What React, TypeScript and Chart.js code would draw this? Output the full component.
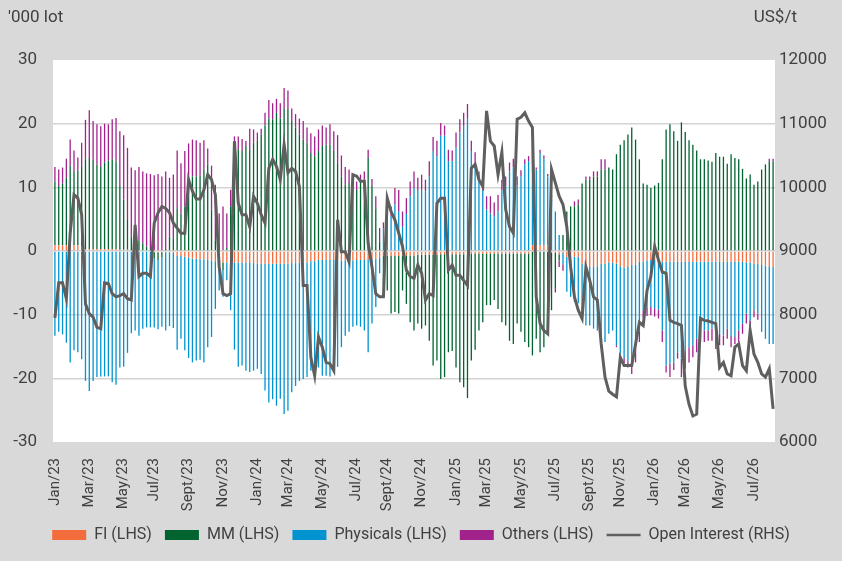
import React, { useEffect, useRef } from "react";
import Chart from "chart.js/auto";

// weekly observations, first week of Jan 2023 onwards
const weeks: string[] = Array.from({ length: 189 }, (_, i) =>
  new Date(Date.UTC(2023, 0, 1) + i * 7 * 86400000).toISOString().slice(0, 10)
);

const monthNames = ["Jan", "Feb", "Mar", "Apr", "May", "Jun", "Jul", "Aug", "Sept", "Oct", "Nov", "Dec"];

// '000 lot
const fi = [
  0.9, 0.9, 0.9, 0.9, 0.9, 0.9, 0.9, 0.7, 0.3, 0.3,
  0.3, 0.3, 0.3, 0.3, 0.3, 0.3, 0.3, 0.2, 0.2, 0.2,
  0.1, 0.1, 0.1, 0.1, 0, 0, -0.2, -0.2, -0.2, -0.2,
  -0.2, -0.3, -0.8, -0.8, -0.9, -1.0, -1.2, -1.2, -1.3, -1.3,
  -1.4, -1.5, -1.6, -1.8, -1.8, -1.8, -1.8, -1.8, -1.8, -1.8,
  -1.8, -1.9, -1.9, -2.0, -2.0, -2.0, -2.0, -2.0, -2.0, -2.0,
  -2.0, -2.0, -1.9, -1.9, -1.8, -1.8, -1.8, -1.6, -1.6, -1.4,
  -1.4, -1.4, -1.4, -1.4, -1.4, -1.5, -1.5, -1.5, -1.5, -1.4,
  -1.4, -1.4, -1.3, -1.3, -1.2, -1.0, -0.8, -0.8, -0.8, -0.8,
  -0.8, -0.7, -0.7, -0.7, -0.7, -0.6, -0.6, -0.6, -0.6, -0.6,
  -0.6, -0.5, -0.5, -0.5, -0.5, -0.5, -0.5, -0.5, -0.5, -0.4,
  -0.4, -0.4, -0.4, -0.4, -0.4, -0.4, -0.4, -0.4, -0.4, -0.4,
  -0.4, -0.4, -0.4, -0.4, -0.4, 0.9, 0.9, 0.9, 0.9, 0.9,
  -0.3, -0.3, -0.5, -0.3, -0.9, -0.9, -0.9, -0.9, -2.0, -2.7,
  -2.5, -2.5, -2.4, -2.0, -2.0, -1.8, -1.8, -2.0, -2.4, -2.6,
  -2.5, -2.2, -2.1, -1.7, -1.7, -1.5, -1.4, -1.4, -1.4, -1.7,
  -1.7, -1.7, -1.7, -1.7, -1.7, -1.7, -1.7, -1.7, -1.7, -1.7,
  -1.7, -1.7, -1.7, -1.7, -1.7, -1.7, -1.7, -1.7, -1.7, -1.7,
  -1.7, -1.8, -1.8, -2.0, -2.0, -2.2, -2.3, -2.4, -2.5,
];

const mm = [
  10.0, 9.3, 9.7, 10.6, 12.5, 11.5, 11.8, 12.5, 14.1, 14.3,
  14.0, 13.3, 12.9, 13.6, 13.9, 14.1, 13.8, 10.0, 7.9, 4.8,
  2.2, 2.0, 1.6, 1.1, 0.7, 0.3, -1.0, -1.2, -0.8, 0.3,
  2.3, 2.0, 6.7, 5.9, 7.0, 11.2, 11.7, 11.7, 11.8, 12.8,
  13.6, 6.5, 1.7, 1.2, -1.2, 0.5, 7.0, 16.8, 16.0, 15.7,
  16.5, 16.0, 17.0, 17.3, 18.3, 19.7, 20.8, 20.7, 21.7, 20.8,
  22.3, 22.3, 20.4, 19.4, 18.3, 17.5, 17.0, 15.4, 14.9, 15.7,
  16.5, 16.7, 16.7, 15.7, 13.8, 11.7, 10.4, 10.7, 10.7, 9.6,
  11.2, 11.2, 14.6, 10.2, 6.7, 1.5, -4.5, -5.4, -9.0, -8.8,
  -9.0, -5.5, -7.6, -10.5, -11.8, -10.8, -11.6, -11.1, -13.5, -17.4,
  -16.6, -19.6, -19.3, -15.4, -15.2, -17.8, -20.1, -20.9, -22.6, -16.8,
  -15.1, -12.1, -10.8, -8.1, -8.1, -7.3, -8.7, -10.8, -11.3, -13.7,
  -14.2, -11.0, -12.3, -13.9, -14.7, -16.4, -13.8, -15.9, -15.1, -11.9,
  -9.0, -5.5, -1.0, 2.5, 6.2, 7.0, 7.0, 7.3, 10.6, 11.2,
  11.2, 11.7, 11.7, 12.8, 12.8, 13.1, 12.8, 15.2, 16.7, 17.4,
  18.3, 19.4, 17.5, 14.4, 10.6, 10.4, 9.9, 10.3, 10.7, 14.4,
  19.1, 19.9, 18.8, 17.3, 20.2, 18.7, 17.4, 16.7, 15.8, 14.4,
  14.4, 14.2, 14.0, 15.4, 14.8, 14.8, 13.7, 15.2, 14.6, 14.4,
  12.9, 11.4, 12.0, 10.4, 10.9, 12.8, 13.6, 14.1, 14.1,
];

const physicals = [
  -13.3, -12.7, -13.1, -14.4, -17.5, -15.6, -15.9, -17.0, -20.4, -22.0,
  -20.4, -19.8, -19.7, -19.7, -19.7, -20.6, -21.0, -18.3, -18.2, -16.0,
  -12.9, -12.5, -13.3, -12.2, -12.0, -12.0, -10.8, -10.9, -10.9, -12.3,
  -11.6, -11.8, -14.7, -13.0, -14.7, -15.8, -16.3, -16.0, -15.8, -16.2,
  -13.7, -12.0, -7.5, -4.4, -4.2, -2.8, -7.5, -13.7, -16.4, -16.2,
  -17.0, -17.1, -16.9, -16.5, -17.3, -19.9, -21.8, -21.3, -22.3, -21.2,
  -23.6, -23.1, -20.3, -19.3, -18.6, -18.3, -18.0, -17.2, -17.2, -16.9,
  -18.2, -18.2, -18.3, -17.4, -16.8, -13.6, -11.8, -11.2, -10.4, -10.3,
  -10.5, -11.1, -14.6, -10.1, -7.6, -2.5, 3.5, 7.0, 5.5, 7.3,
  6.2, 3.8, 5.8, 8.6, 9.9, 9.6, 9.6, 9.4, 11.7, 15.7,
  14.9, 18.1, 18.1, 14.1, 14.1, 16.2, 18.6, 19.6, 20.9, 15.7,
  13.3, 11.2, 9.6, 6.5, 5.9, 5.4, 6.2, 9.6, 10.2, 12.5,
  13.1, 10.3, 11.7, 13.6, 14.1, 15.0, 11.9, 14.5, 13.6, 10.8,
  8.5, 6.2, 2.5, -1.8, -5.5, -6.3, -7.1, -7.3, -8.6, -9.0,
  -9.2, -9.7, -10.1, -12.3, -12.3, -11.2, -10.7, -12.8, -13.8, -14.2,
  -14.8, -15.2, -13.0, -11.0, -7.7, -7.4, -7.4, -7.6, -7.8, -10.8,
  -16.3, -16.0, -15.8, -14.2, -15.2, -13.9, -13.4, -13.1, -12.1, -11.0,
  -10.8, -10.8, -10.5, -11.8, -11.3, -11.6, -10.5, -11.6, -11.8, -10.8,
  -9.7, -8.0, -9.1, -7.3, -7.8, -10.5, -11.5, -12.2, -12.1,
];

const others = [
  2.3, 2.6, 2.5, 3.0, 4.1, 3.4, 2.0, 3.8, 6.2, 7.5,
  6.1, 6.3, 6.4, 6.1, 5.7, 6.3, 6.8, 8.6, 10.1, 11.2,
  10.8, 10.6, 11.5, 11.3, 11.5, 11.8, 11.9, 12.1, 11.7, 12.2,
  9.2, 10.0, 9.1, 7.9, 8.7, 5.7, 5.8, 5.7, 5.2, 4.6,
  2.5, 6.9, 8.7, 4.7, 7.0, 5.4, 2.6, 1.2, 2.0, 1.9,
  0.8, 3.2, 2.1, 1.3, 0.9, 2.0, 2.9, 2.5, 2.2, 2.4,
  3.3, 2.9, 2.0, 2.1, 2.5, 2.9, 2.4, 3.1, 3.1, 3.4,
  3.2, 2.7, 3.2, 3.1, 4.4, 3.3, 2.8, 2.1, 1.3, 1.3,
  0.8, 1.3, 1.3, 1.1, 1.9, 2.1, 1.0, 1.3, 1.5, 2.6,
  3.4, 2.4, 2.5, 2.3, 2.6, 1.9, 2.4, 1.8, 2.4, 2.2,
  2.4, 2.0, 1.6, 1.8, 1.7, 2.4, 2.1, 2.1, 2.2, 1.6,
  2.2, 1.3, 0.7, 2.1, 2.7, 2.2, 2.6, 1.6, 1.5, 1.4,
  1.4, 1.4, 1.0, 0.8, 0.8, 0.7, 0.3, 0.5, 0.5, 0.4,
  0.3, -0.7, -1.0, -1.0, 0, 0, 0.8, 0.8, 0, 0.5,
  0.5, 0.8, 0.8, 1.6, 1.6, 0, 0, -0.3, -0.5, -0.8,
  -1.0, -1.9, -2.4, -1.6, -1.0, -1.3, -1.3, -1.3, -1.4, -1.8,
  -1.1, -2.1, -1.2, -1.0, -2.9, -2.9, -2.4, -1.9, -2.1, -1.6,
  -1.8, -1.6, -1.9, -1.9, -1.8, -1.5, -1.6, -1.8, -1.1, -1.8,
  -1.6, -1.6, -1.0, -1.1, -1.0, 0, 0, 0.4, 0.4,
];

// US$/t
const openInterest = [
  7950, 8500, 8500, 8250, 9280, 9885, 9830, 9570, 8170, 8015,
  7960, 7800, 7780, 8500, 8490, 8330, 8280, 8300, 8330, 8250,
  8230, 9410, 8600, 8650, 8650, 8600, 9440, 9600, 9700, 9670,
  9600, 9440, 9360, 9280, 9280, 10120, 9940, 9815, 9815, 9960,
  10200, 10120, 9885, 8750, 8330, 8300, 8330, 10725, 9750, 9570,
  9570, 9380, 9860, 9750, 9570, 9440, 10300, 10440, 10330, 10120,
  10670, 10230, 10300, 10250, 10015, 8460, 8460, 7330, 7040, 7650,
  7490, 7250, 7230, 7120, 9490, 8990, 8990, 8830, 10200, 10175,
  10095, 10095, 9120, 8750, 8330, 8280, 8280, 9830, 9620, 9490,
  9280, 9070, 8700, 8600, 8570, 8780, 8650, 8230, 8330, 8300,
  9750, 9830, 9830, 8700, 8780, 8620, 8620, 8540, 8460, 10300,
  10360, 10120, 10015, 11200, 10725, 10650, 10200, 10550, 9650, 9380,
  9280, 11070, 11100, 11170, 11040, 10940, 8280, 7860, 7750, 7700,
  10280, 10070, 9860, 9730, 9380, 8750, 8280, 8070, 7940, 8750,
  8540, 8280, 8230, 7540, 7020, 6800, 6750, 6710, 7330, 7200,
  7200, 7200, 7540, 7880, 7830, 8380, 8600, 9070, 8860, 8670,
  8650, 7910, 7880, 7860, 7830, 6880, 6590, 6410, 6440, 7940,
  7910, 7900, 7880, 7860, 7170, 7250, 7070, 7040, 7490, 7540,
  7200, 7120, 7750, 7380, 7250, 7070, 7020, 7150, 6520,
];

const FONT = "Roboto, 'Liberation Sans', Arial, sans-serif";
const TEXT = "#404040";

const backdrop = {
  id: "backdrop",
  beforeDraw(chart: any) {
    const { ctx, chartArea } = chart;
    ctx.save();
    ctx.fillStyle = "#ffffff";
    ctx.fillRect(chartArea.left, chartArea.top, chartArea.right - chartArea.left, chartArea.bottom - chartArea.top);
    ctx.restore();
  },
  afterDraw(chart: any) {
    const { ctx } = chart;
    ctx.save();
    ctx.fillStyle = TEXT;
    ctx.font = `17px ${FONT}`;
    ctx.textBaseline = "middle";
    ctx.textAlign = "left";
    ctx.fillText("'000 lot", 8, 18);
    ctx.textAlign = "right";
    ctx.fillText("US$/t", 797, 18);
    ctx.restore();
  },
};

const App: React.FC = () => {
  const canvasRef = useRef<HTMLCanvasElement>(null);

  useEffect(() => {
    if (!canvasRef.current) return;
    const bar = (label: string, data: number[], color: string) => ({
      type: "bar" as const,
      label,
      data,
      backgroundColor: color,
      borderWidth: 0,
      categoryPercentage: 1,
      barPercentage: 0.34,
      stack: "pos",
      yAxisID: "y",
      order: 1,
    });

    const chart = new Chart(canvasRef.current, {
      type: "bar",
      data: {
        labels: weeks,
        datasets: [
          bar("FI (LHS)", fi, "#F36C3B"),
          bar("MM (LHS)", mm, "#006330"),
          bar("Physicals (LHS)", physicals, "#0093D0"),
          bar("Others (LHS)", others, "#A1228B"),
          {
            type: "line" as const,
            label: "Open Interest (RHS)",
            data: openInterest,
            borderColor: "#5f5f5f",
            borderWidth: 3,
            pointRadius: 0,
            tension: 0,
            yAxisID: "y1",
            order: 0,
          } as any,
        ],
      },
      options: {
        responsive: true,
        maintainAspectRatio: false,
        animation: false,
        datasets: {
          bar: { categoryPercentage: 1, barPercentage: 0.34 },
        },
        layout: { padding: { top: 60, bottom: 8, left: 0, right: 0 } },
        plugins: {
          tooltip: { enabled: false },
          legend: {
            position: "bottom",
            labels: {
              color: TEXT,
              font: { family: FONT, size: 16 },
              usePointStyle: true,
              pointStyleWidth: 34,
              boxWidth: 34,
              boxHeight: 10,
              padding: 13,
              sort: (a: any, b: any) => a.datasetIndex - b.datasetIndex,
              generateLabels: (c: any) =>
                Chart.defaults.plugins.legend.labels.generateLabels(c).map((it: any) =>
                  it.datasetIndex === 4
                    ? { ...it, pointStyle: "line", lineWidth: 2.5, strokeStyle: "#5f5f5f" }
                    : { ...it, pointStyle: "rect", lineWidth: 0 }
                ),
            },
          },
        },
        scales: {
          x: {
            stacked: true,
            grid: { display: false },
            border: { display: false },
            ticks: {
              autoSkip: false,
              minRotation: 90,
              maxRotation: 90,
              padding: 8,
              color: TEXT,
              font: { family: FONT, size: 15 },
              callback: (_v: any, i: number) => {
                const d = new Date(weeks[i]);
                const m = d.getUTCMonth();
                const prev = i > 0 ? new Date(weeks[i - 1]).getUTCMonth() : -1;
                if (m !== prev && m % 2 === 0) {
                  return `${monthNames[m]}/${String(d.getUTCFullYear()).slice(2)}`;
                }
                return "";
              },
            },
            afterFit: (s: any) => {
              s.height = 72;
            },
          },
          y: {
            stacked: true,
            position: "left",
            min: -30,
            max: 30,
            ticks: { stepSize: 10, padding: 16, color: TEXT, font: { family: FONT, size: 17 } },
            grid: {
              drawTicks: false,
              lineWidth: 1.5,
              color: (ctx: any) => (Math.abs(ctx.tick?.value) === 30 ? "rgba(0,0,0,0)" : "#d3d3d3"),
            },
            border: { display: false },
            afterFit: (s: any) => {
              s.width = 53;
            },
          },
          y1: {
            position: "right",
            min: 6000,
            max: 12000,
            ticks: {
              stepSize: 1000,
              padding: 4,
              color: TEXT,
              font: { family: FONT, size: 17 },
              callback: (v: any) => String(v),
            },
            grid: { display: false, drawTicks: false },
            border: { display: false },
            afterFit: (s: any) => {
              s.width = 67;
            },
          },
        },
      },
      plugins: [backdrop],
    });

    return () => {
      chart.destroy();
    };
  }, []);

  return (
    <div style={{ position: "absolute", left: 0, top: 0, width: 842, height: 561, background: "#d9d9d9" }}>
      <canvas ref={canvasRef} />
    </div>
  );
};

export default App;
